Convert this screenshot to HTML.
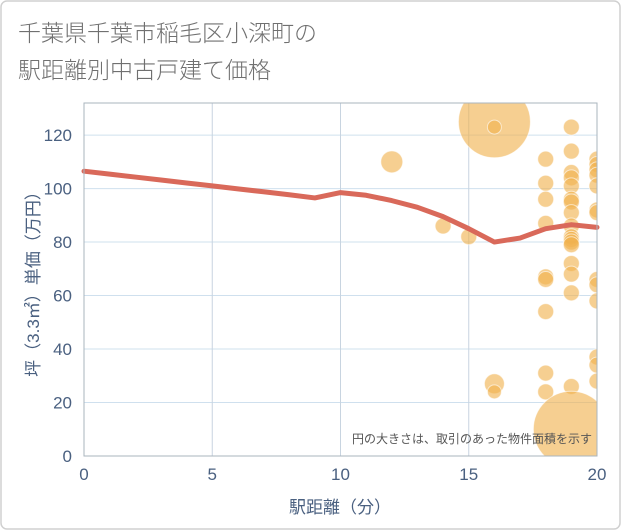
<!DOCTYPE html>
<html><head><meta charset="utf-8"><style>
html,body{margin:0;padding:0;background:#fff}
svg{display:block;font-family:"Liberation Sans","Noto Sans CJK JP",sans-serif}
</style></head><body>
<svg id="c" width="621" height="530" xmlns="http://www.w3.org/2000/svg">
<rect x="1" y="1" width="619" height="528" rx="6" fill="#fff" stroke="#d0d0d0" stroke-width="1.5"/>
<text x="18" y="41" font-size="23" fill="#707070" font-weight="300">千葉県千葉市稲毛区小深町の</text>
<text x="18" y="78" font-size="23" fill="#707070" font-weight="300">駅距離別中古戸建て価格</text>
<g id="grid"></g>
<g id="bubbles"></g>
<g id="line"></g>
<g id="axes"></g>
<text x="592" y="443" font-size="12" fill="#555" text-anchor="end">円の大きさは、取引のあった物件面積を示す</text>
<text x="340" y="513" font-size="17" fill="#4a6080" text-anchor="middle">駅距離（分）</text>
<text transform="translate(39,280) rotate(-90)" font-size="17" fill="#4a6080" text-anchor="middle">坪（3.3㎡）単価（万円）</text>
</svg>
<script>
const xTicks=[0,5,10,15,20];
const yTicks=[0,20,40,60,80,100,120];
const lineX=[0,1,2,3,4,5,6,7,8,9,10,11,12,13,14,15,16,17,18,19,20];
const lineY=[106.5,105.4,104.3,103.2,102.1,101,99.9,98.8,97.7,96.5,98.5,97.5,95.5,93,89.5,85,80,81.5,85,86.5,85.5];
const bubX=[12,14,15,16,16,16,16,18,18,18,18,18,18,18,18,18,19,19,19,19,19,19,19,19,19,19,19,19,19,19,19,19,19,19,20,20,20,20,20,20,20,20,20,20,20,20,20];
const bubY=[110,86,82,125,123,27,24,111,102,96,87,67,66,54,31,24,123,114,106,104,101,96,95,91,86,82,81,80,79,72,68,61,26,10,111,109,107,105,101,92,91,66,64,58,37,34,28];
const bubR=[11,8,8,36,7,10,7,8,8,8,8,8,8,8,8,8,8,8,8,8,8,8,8,8,8,8,8,8,8,8,8,8,8,38,8,8,8,8,8,8,8,8,8,8,8,8,8];
const L=84,R=597,T=103,B=456;
const sx=v=>L+(v-0)/(20-0)*(R-L);
const sy=v=>B-(v-0)/(132-0)*(B-T);
const NS="http://www.w3.org/2000/svg";
function mk(tag,attrs,parent){const e=document.createElementNS(NS,tag);for(const k in attrs)e.setAttribute(k,attrs[k]);document.getElementById(parent).appendChild(e);return e;}
const defs=document.createElementNS(NS,'defs');
defs.innerHTML='<clipPath id="pc"><rect x="'+L+'" y="'+T+'" width="'+(R-L)+'" height="'+(B-T)+'"/></clipPath>';
document.getElementById('c').prepend(defs);
document.getElementById('bubbles').setAttribute('clip-path','url(#pc)');
for(const t of yTicks){
 const g=mk('line',{x1:L,x2:R,y1:sy(t),y2:sy(t),stroke:'#cfe0ee','stroke-width':1},'grid');
 
 
 const tx=mk('text',{x:L-12,y:sy(t)+6,'font-size':17,fill:'#4a6080','text-anchor':'end'},'axes');
 tx.textContent=t;
 
 
}
for(const t of xTicks){
 const g=mk('line',{x1:sx(t),x2:sx(t),y1:T,y2:B,stroke:'#c8d4e0','stroke-width':1},'grid');
 
 
 const tx=mk('text',{x:sx(t),y:B+24,'font-size':17,fill:'#4a6080','text-anchor':'middle'},'axes');
 tx.textContent=t;
 
 
}
const fr=mk('rect',{x:L,y:T,width:R-L,height:B-T,fill:'none',stroke:'#aab4be','stroke-width':1},'axes');


for(let i=0;i<bubX.length;i++){
 const c=mk('circle',{cx:sx(bubX[i]),cy:sy(bubY[i]),r:bubR[i],fill:'rgba(240,178,78,0.62)',stroke:'rgba(255,255,255,0.6)','stroke-width':1},'bubbles');
 
 
}
const p=mk('polyline',{points:lineX.map((x,i)=>sx(x)+','+sy(lineY[i])).join(' '),fill:'none',stroke:'#d9695a','stroke-width':5,'stroke-linejoin':'round','stroke-linecap':'round'},'line');


</script>
</body></html>
